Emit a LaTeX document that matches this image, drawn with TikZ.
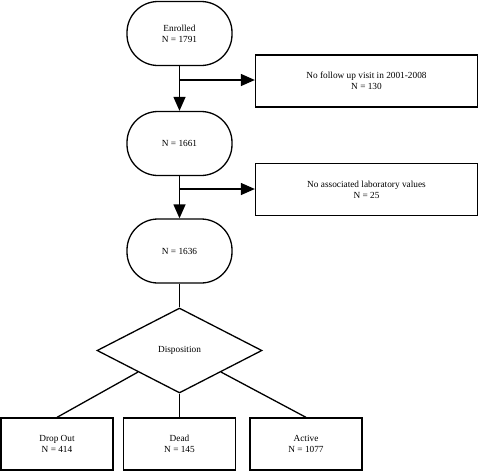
\documentclass[tikz,border=0pt]{standalone}
\usepackage{fontspec}
\setmainfont{Liberation Serif}
\usetikzlibrary{arrows.meta,shapes.geometric}
\begin{document}
\begin{tikzpicture}[x=1pt,y=-1pt,
  every node/.style={font=\fontsize{9.3}{10.8}\selectfont, align=center, line width=1.3pt},
  term/.style={draw, rounded corners=31pt, minimum width=105pt, minimum height=64pt, inner sep=0pt},
  sidebox/.style={draw, minimum width=222pt, minimum height=52pt, inner sep=0pt},
  outbox/.style={draw, minimum width=112pt, minimum height=52pt, inner sep=0pt},
  dec/.style={draw, diamond, minimum width=165pt, minimum height=85pt, inner sep=0pt, aspect=1.94},
  conn/.style={line width=1.3pt},
  arr/.style={conn, -{Triangle[length=14pt,width=12pt]}}]
\useasboundingbox (0,0) rectangle (480,472);
\node[term] (enr) at (179.5,33.5) {Enrolled\\N = 1791};
\node[term] (n1) at (179.5,143.5) {N = 1661};
\node[term] (n2) at (179.5,251) {N = 1636};
\node[sidebox] (nf) at (366.5,81) {No follow up visit in 2001-2008\\N = 130};
\node[sidebox] (nl) at (366.5,189.5) {No associated laboratory values\\N = 25};
\node[dec] (disp) at (179.5,350.5) {Disposition};
\node[outbox] (drop) at (57,444) {Drop Out\\N = 414};
\node[outbox] (dead) at (179.5,444) {Dead\\N = 145};
\node[outbox] (act) at (306,444) {Active\\N = 1077};
\coordinate (b1) at (179.5,80);
\coordinate (b2) at (179.5,189);
\draw[arr] (enr.south) -- (n1.north);
\draw[arr] (b1) -- (b1 -| nf.west);
\draw[arr] (n1.south) -- (n2.north);
\draw[arr] (b2) -- (b2 -| nl.west);
\draw[conn] (n2.south) -- (disp.north);
\draw[conn] (disp.south west) -- (drop.north);
\draw[conn] (disp.south) -- (dead.north);
\draw[conn] (disp.south east) -- (act.north);
\end{tikzpicture}
\end{document}
